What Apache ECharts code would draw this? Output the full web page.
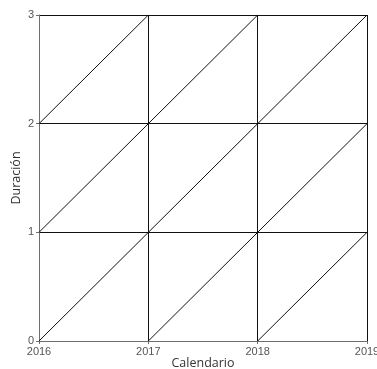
<!DOCTYPE html>
<html>
<head>
<meta charset="utf-8">
<script src="https://cdn.jsdelivr.net/npm/echarts@6/dist/echarts.min.js"></script>
<style>
  html, body { margin: 0; padding: 0; background: #fff; }
  #chart { width: 377px; height: 369px; }
</style>
</head>
<body>
<div id="chart"></div>
<script>
// Lexis diagram: calendar time vs. duration
const years = [2016, 2017, 2018, 2019];
const durations = [0, 1, 2, 3];

// Life lines (start point, end point) in [calendar year, duration]
const lifeLineStarts = [[2016, 2], [2016, 1], [2016, 0], [2017, 0], [2018, 0]];
const lifeLineEnds   = [[2017, 3], [2018, 3], [2019, 3], [2019, 2], [2019, 1]];

const axisGray = '#6e6e6e';
const labelGray = '#555';

const series = lifeLineStarts.map((s, i) => ({
  type: 'line',
  data: [s, lifeLineEnds[i]],
  symbol: 'none',
  silent: true,
  lineStyle: { color: '#111', width: 1 },
  z: 3
}));

const chart = echarts.init(document.getElementById('chart'));
chart.setOption({
  animation: false,
  grid: { left: 39, right: 10, top: 15, bottom: 28, outerBoundsMode: 'none', containLabel: false },
  xAxis: {
    type: 'value',
    min: years[0],
    max: years[years.length - 1],
    interval: 1,
    name: 'Calendario',
    nameLocation: 'middle',
    nameGap: 16,
    nameMoveOverlap: false,
    nameTextStyle: { fontFamily: 'Open Sans', fontSize: 12.5, color: '#333' },
    axisLine: { lineStyle: { color: axisGray, width: 1 } },
    axisTick: { show: true, length: 3, lineStyle: { color: axisGray } },
    axisLabel: { color: labelGray, fontFamily: 'Liberation Sans', fontSize: 11, margin: 5,
                 formatter: v => String(v) },
    splitLine: { show: true, lineStyle: { color: '#111', width: 1 } }
  },
  yAxis: {
    type: 'value',
    min: durations[0],
    max: durations[durations.length - 1],
    interval: 1,
    name: 'Duración',
    nameLocation: 'middle',
    nameGap: 16,
    nameMoveOverlap: false,
    nameTextStyle: { fontFamily: 'Open Sans', fontSize: 12.5, color: '#333' },
    axisLine: { show: true, lineStyle: { color: axisGray, width: 1 } },
    axisTick: { show: true, length: 3, lineStyle: { color: axisGray } },
    axisLabel: { color: labelGray, fontFamily: 'Liberation Sans', fontSize: 11, margin: 5 },
    splitLine: { show: true, lineStyle: { color: '#111', width: 1 } }
  },
  series: series
});
</script>
</body>
</html>
